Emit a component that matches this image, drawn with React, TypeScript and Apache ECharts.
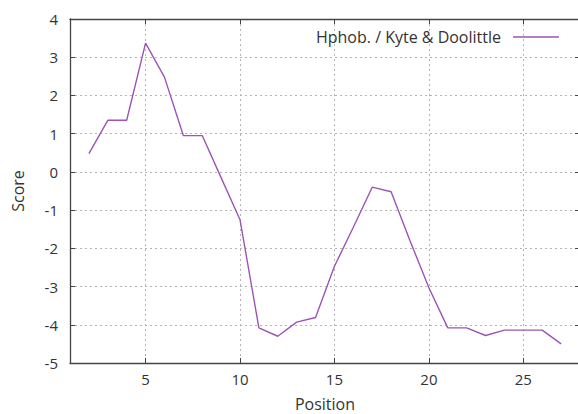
import React, { useEffect, useRef } from "react";
import * as echarts from "echarts";

const positions = ["1","2","3","4","5","6","7","8","9","10","11","12","13","14","15","16","17","18","19","20","21","22","23","24","25","26","27","28"];
const scores: (number | null)[] = [null, 0.48, 1.35, 1.35, 3.37, 2.48, 0.95, 0.95, -0.15, -1.25, -4.08, -4.3, -3.93, -3.81, -2.47, -1.45, -0.4, -0.52, -1.8, -3.03, -4.08, -4.08, -4.28, -4.14, -4.14, -4.14, -4.5, null];
const xTickLabels = ["5", "10", "15", "20", "25"];
const seriesName = "Hphob. / Kyte & Doolittle";

const FONT = "Open Sans";
const TEXT = "#333333";
const AXIS = "#444444";
const LINE = "#9c55b5";

export default function App() {
  const ref = useRef<HTMLDivElement>(null);
  useEffect(() => {
    document.body.style.margin = "0";
    const chart = echarts.init(ref.current!, null, { renderer: "svg" });
    const showTick = (_i: number, v: string) => xTickLabels.includes(v);
    chart.setOption({
      animation: false,
      backgroundColor: "#ffffff",
      grid: { left: 70, right: -2, top: 19, bottom: 51, containLabel: false, outerBoundsMode: "none" },
      legend: {
        show: true,
        right: 14,
        top: 24,
        align: "right",
        itemWidth: 46,
        itemHeight: 14,
        textStyle: { fontFamily: FONT, fontSize: 16, color: TEXT, padding: [0, 7, 0, 0] },
        data: [{ name: seriesName, icon: "path://M0,0 L46,0 L46,1.4 L0,1.4 Z" }],
      },
      xAxis: [
        {
          type: "category",
          data: positions,
          boundaryGap: false,
          name: "Position",
          nameLocation: "middle",
          nameGap: 32,
          nameTextStyle: { fontFamily: FONT, fontSize: 16, color: TEXT, lineHeight: 17 },
          axisLine: { show: true, onZero: false, lineStyle: { color: AXIS, width: 1.3 } },
          axisTick: { show: true, inside: true, length: 5, interval: showTick, lineStyle: { color: AXIS } },
          axisLabel: { show: true, interval: showTick, margin: 8, fontFamily: FONT, fontSize: 15, color: TEXT },
          splitLine: { show: true, interval: showTick, lineStyle: { color: "#b4b4b4", type: [2, 3], width: 1 } },
        },
        {
          type: "category",
          data: positions,
          boundaryGap: false,
          position: "top",
          axisLine: { show: true, onZero: false, lineStyle: { color: AXIS, width: 1.3 } },
          axisTick: { show: true, inside: true, length: 5, interval: showTick, lineStyle: { color: AXIS } },
          axisLabel: { show: false },
          splitLine: { show: false },
        },
      ],
      yAxis: [
        {
          type: "value",
          min: -5,
          max: 4,
          interval: 1,
          name: "Score",
          nameLocation: "middle",
          nameGap: 44,
          nameTextStyle: { fontFamily: FONT, fontSize: 16, color: TEXT },
          axisLine: { show: true, onZero: false, lineStyle: { color: AXIS, width: 1.3 } },
          axisTick: { show: true, inside: true, length: 5, lineStyle: { color: AXIS } },
          axisLabel: { margin: 12, fontFamily: FONT, fontSize: 15, color: TEXT },
          splitLine: { show: true, lineStyle: { color: "#b4b4b4", type: [2, 3], width: 1 } },
        },
        {
          type: "value",
          min: -5,
          max: 4,
          interval: 1,
          position: "right",
          axisLine: { show: true, onZero: false, lineStyle: { color: AXIS, width: 1.3 } },
          axisTick: { show: true, inside: true, length: 5, lineStyle: { color: AXIS } },
          axisLabel: { show: false },
          splitLine: { show: false },
        },
      ],
      series: [
        {
          name: seriesName,
          type: "line",
          data: scores,
          symbol: "none",
          showSymbol: false,
          xAxisIndex: 0,
          yAxisIndex: 0,
          lineStyle: { color: LINE, width: 1.4 },
          itemStyle: { color: LINE },
        },
      ],
    });
    return () => chart.dispose();
  }, []);
  return <div ref={ref} style={{ width: 578, height: 414 }} />;
}
